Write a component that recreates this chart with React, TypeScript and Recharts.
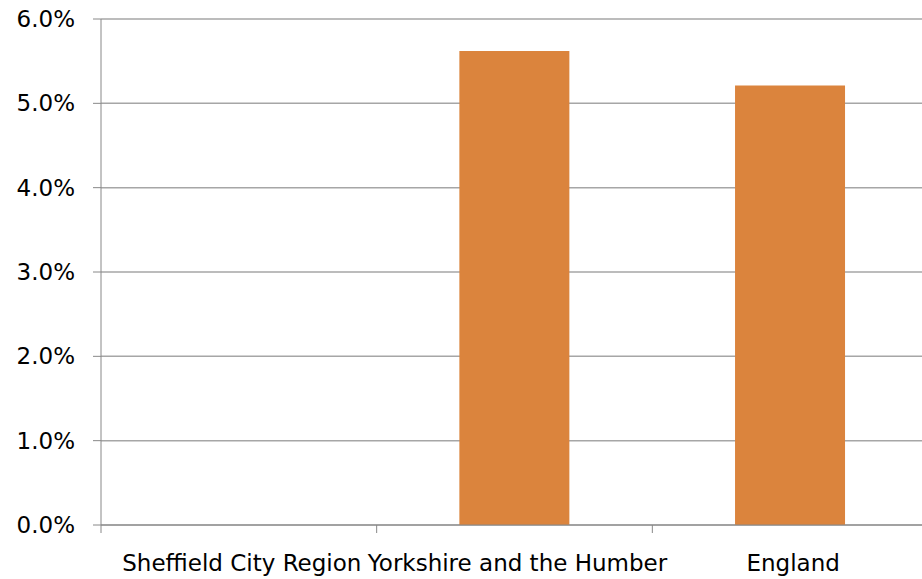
import { BarChart, Bar, XAxis, YAxis, CartesianGrid } from "recharts";

const areas = ["Sheffield City Region", "Yorkshire and the Humber", "England"];
const rates: (number | null)[] = [null, 0.0562, 0.0521];
const yTicks = [0, 0.01, 0.02, 0.03, 0.04, 0.05, 0.06];

const data = areas.map((name, i) => ({ name, rate: rates[i] }));

const FONT = "'DejaVu Sans', Verdana, sans-serif";
const CHART_W = 928;
const AXIS_W = 101;
const BAND = (CHART_W - AXIS_W) / areas.length;
const X_MARGIN = 30;

// category ticks sit between the bands, label centred in the band
function CategoryTick(props: any) {
  const { x, y, payload } = props;
  const left = x - BAND / 2;
  const axisY = y - X_MARGIN;
  return (
    <g>
      <line x1={left} x2={left} y1={axisY} y2={axisY + 8} stroke="#888" />
      <text
        x={x + 3}
        y={y}
        dy="0.71em"
        textAnchor="middle"
        fill="#000"
        fontSize={23}
        fontFamily={FONT}
      >
        {payload.value}
      </text>
    </g>
  );
}

export default function App() {
  return (
    <div
      style={{
        position: "absolute",
        left: 0,
        top: 0,
        width: 922,
        height: 579,
        overflow: "hidden",
        background: "#fff",
      }}
    >
      <BarChart
        width={CHART_W}
        height={579}
        data={data}
        barCategoryGap="30%"
        margin={{ top: 19, right: 0, bottom: 0, left: 0 }}
      >
        <CartesianGrid vertical={false} stroke="#a6a6a6" strokeWidth={1.5} />
        <XAxis
          dataKey="name"
          height={54}
          interval={0}
          stroke="#888"
          tickLine={false}
          tickSize={0}
          tickMargin={X_MARGIN}
          tick={<CategoryTick />}
        />
        <YAxis
          width={AXIS_W}
          domain={[0, 0.06]}
          ticks={yTicks}
          interval={0}
          stroke="#888"
          tickSize={8}
          tickMargin={18}
          tickFormatter={(v: number) => `${(v * 100).toFixed(1)}%`}
          tick={{ fill: "#000", fontSize: 23, fontFamily: FONT }}
        />
        <Bar dataKey="rate" fill="#DB843D" isAnimationActive={false} />
      </BarChart>
    </div>
  );
}
